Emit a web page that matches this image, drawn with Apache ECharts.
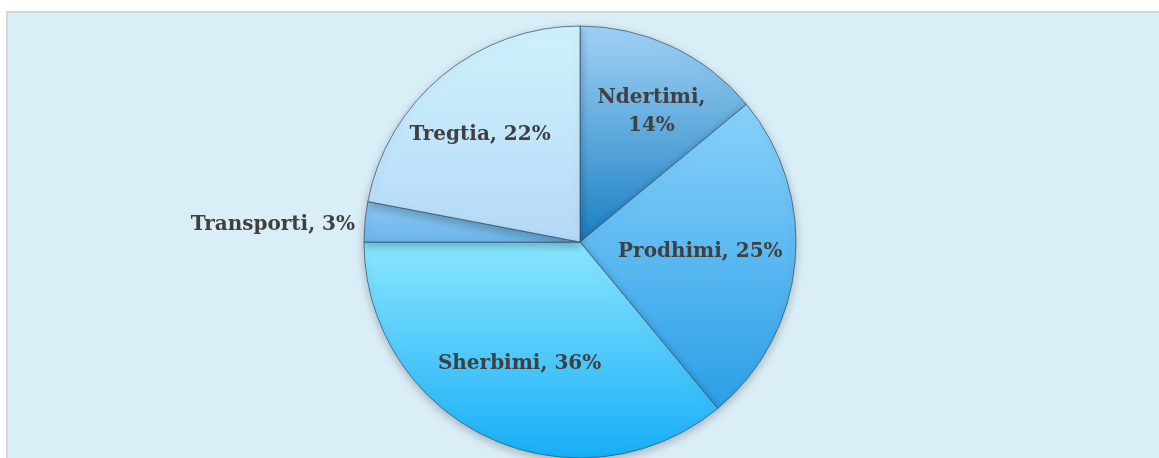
<!DOCTYPE html>
<html>
<head>
<meta charset="utf-8">
<script src="https://cdn.jsdelivr.net/npm/echarts@6/dist/echarts.min.js"></script>
<style>
  html, body { margin: 0; padding: 0; background: #ffffff; }
  #frame {
    position: absolute; left: 6px; top: 11px; width: 1153px; height: 447px;
    background: #daeef7; border-left: 2px solid #d6d6d6; border-top: 2px solid #d6d6d6;
    box-sizing: border-box;
  }
  #chart { position: absolute; left: 0; top: 0; width: 1159px; height: 458px; }
</style>
</head>
<body>
<div id="frame"></div>
<div id="chart"></div>
<script>
// sectors, clockwise from 12 o'clock
const sectors = ['Ndertimi', 'Prodhimi', 'Sherbimi', 'Transporti', 'Tregtia']
const shares = [14, 25, 36, 3, 22]

// top/bottom gradient colours per slice
const topColors = ['#a2d2f6', '#8ad2fb', '#8ce6fe', '#8ccaf3', '#d0f2fd']
const bottomColors = ['#1a80c2', '#2b9fe6', '#17aef7', '#6bb4ea', '#b4d9f7']

// small nudges so the labels sit where Excel put them
const labelNudge = { Ndertimi: [8, 5], Prodhimi: [-28, -4], Sherbimi: [3, -13], Tregtia: [-5, 8], Transporti: [0, 4] }

const chart = echarts.init(document.getElementById('chart'))

const labelFont = {
  fontFamily: 'DejaVu Serif',
  fontWeight: 'bold',
  fontSize: 20,
  color: '#404040',
  lineHeight: 28,
}

function grad(i) {
  return new echarts.graphic.LinearGradient(0, 0, 0, 1, [
    { offset: 0, color: topColors[i] },
    { offset: 1, color: bottomColors[i] },
  ])
}

const pieData = sectors.map((name, i) => ({
  name,
  value: shares[i],
  itemStyle: { color: grad(i) },
  label: {
    show: name === 'Transporti',
    position: 'outside',
    formatter: '{b}, {c}%',
    offset: labelNudge[name],
    ...labelFont,
  },
}))

// invisible bigger pie carrying the inside labels
const labelData = sectors.map((name, i) => ({
  name,
  value: shares[i],
  label: {
    show: name !== 'Transporti',
    formatter: name === 'Ndertimi' ? '{b},\n{c}%' : '{b}, {c}%',
    offset: labelNudge[name],
  },
}))

chart.setOption({
  animation: false,
  series: [
    {
      type: 'pie',
      center: [580, 242],
      radius: 216,
      startAngle: 90,
      data: pieData,
      labelLine: { show: false, length: 5, length2: 0 },
      itemStyle: {
        borderColor: 'rgba(55, 85, 115, 0.75)',
        borderWidth: 1,
        shadowBlur: 10,
        shadowOffsetY: 3,
        shadowColor: 'rgba(0, 0, 0, 0.25)',
      },
      emphasis: { disabled: true },
    },
    {
      type: 'pie',
      center: [580, 242],
      radius: 292,
      startAngle: 90,
      silent: true,
      data: labelData,
      itemStyle: { color: 'rgba(0,0,0,0)' },
      label: { position: 'inside', ...labelFont },
      labelLine: { show: false },
      emphasis: { disabled: true },
    },
  ],
})
</script>
</body>
</html>
